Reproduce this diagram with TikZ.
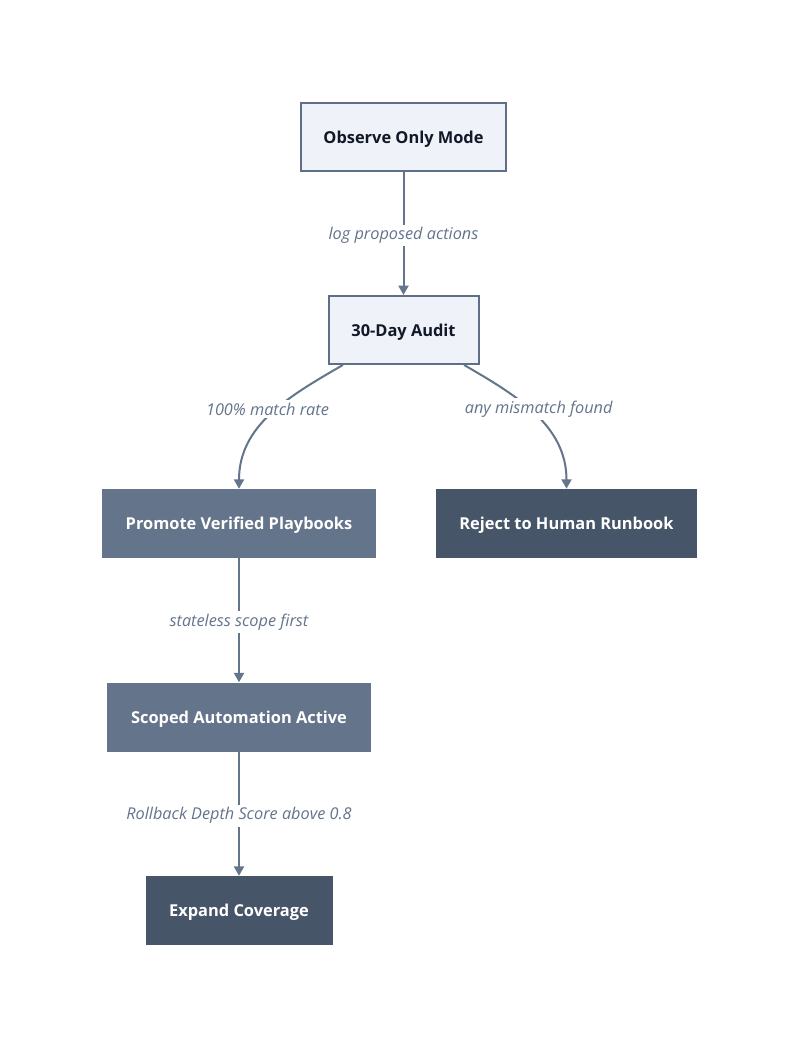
\documentclass[tikz,border=0pt]{standalone}
\usepackage{fontspec}
\setmainfont{Open Sans}
\usetikzlibrary{arrows.meta}

\definecolor{lightfill}{HTML}{EFF2F8}
\definecolor{lightline}{HTML}{5F6F88}
\definecolor{midfill}{HTML}{64748B}
\definecolor{darkfill}{HTML}{475569}
\definecolor{inktext}{HTML}{111827}
\definecolor{edgecol}{HTML}{64748B}

\tikzset{
    boxtext/.style={font=\bfseries\fontsize{12.3}{14}\selectfont, text height=9pt, text depth=0pt},
    lightbox/.style={boxtext, draw=lightline, line width=1.5pt, fill=lightfill, text=inktext,
        minimum height=51pt},
    midbox/.style={boxtext, fill=midfill, text=white, minimum height=51.75pt},
    darkbox/.style={boxtext, fill=darkfill, text=white, minimum height=51.75pt},
    flow/.style={draw=edgecol, line width=1.5pt, -{Triangle[width=7.5pt,length=7pt]}},
    flowlabel/.style={fill=white, text=edgecol, inner sep=2pt, yshift=-1.5pt,
        font=\itshape\fontsize{12.2}{14}\selectfont}
}

\begin{document}
\begin{tikzpicture}[x=0.75pt, y=-0.75pt] % pixel grid, y runs down

    % Page frame
    \useasboundingbox (0,0) rectangle (800,1049);
    \fill[white] (0,0) rectangle (800,1049);

    % Column positions
    \def\midx{403.5}
    \def\leftx{239}
    \def\rightx{566.5}

    % Top section
    \node[lightbox, minimum width=153.75pt] (observe) at (\midx,137) {Observe Only Mode};
    \node[lightbox, minimum width=112.5pt] (audit) at (\midx,330) {30-Day Audit};

    % Branches after the audit
    \node[midbox, minimum width=205.5pt] (promote) at (\leftx,523.5) {Promote Verified Playbooks};
    \node[darkbox, minimum width=195.75pt] (reject) at (\rightx,523.5) {Reject to Human Runbook};

    % Left column
    \node[midbox, minimum width=198pt] (scoped) at (\leftx,717) {Scoped Automation Active};
    \node[darkbox, minimum width=140.25pt] (expand) at (\leftx,910.5) {Expand Coverage};

    % Connectors
    \draw[flow] (observe) -- node[flowlabel] {log proposed actions} (audit);
    \draw[flow] (audit) to[out=-150, in=90] node[flowlabel, pos=0.43, xshift=-8.5pt] {100\% match rate} (promote);
    \draw[flow] (audit) to[out=-30, in=90] node[flowlabel, pos=0.43, xshift=8.5pt] {any mismatch found} (reject);
    \draw[flow] (promote) -- node[flowlabel] {stateless scope first} (scoped);
    \draw[flow] (scoped) -- node[flowlabel] {Rollback Depth Score above 0.8} (expand);

\end{tikzpicture}
\end{document}
